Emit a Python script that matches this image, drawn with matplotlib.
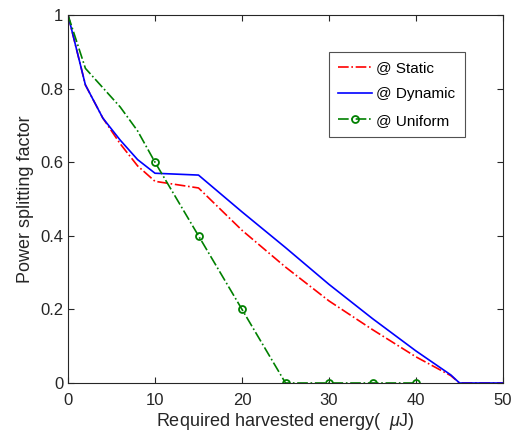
import matplotlib
matplotlib.use("Agg")
import matplotlib.pyplot as plt

plt.rcParams['font.family'] = ['Liberation Sans', 'DejaVu Sans']
plt.rcParams['mathtext.fontset'] = 'custom'
plt.rcParams['mathtext.it'] = 'Liberation Sans:italic'

x_static = [0, 2, 4, 6, 8, 10, 15, 20, 25, 30, 35, 40, 44, 45, 50]
y_static = [1.0, 0.81, 0.72, 0.65, 0.59, 0.548, 0.53, 0.415, 0.315, 0.223, 0.145, 0.071, 0.02, 0.0, 0.0]

x_dynamic = [0, 2, 4, 6, 8, 10, 15, 20, 25, 30, 35, 40, 44, 45, 50]
y_dynamic = [1.0, 0.81, 0.72, 0.66, 0.607, 0.57, 0.565, 0.465, 0.368, 0.268, 0.175, 0.087, 0.022, 0.0, 0.0]

x_uniform = [0, 2, 6, 8, 10, 15, 20, 25, 30, 35, 40]
y_uniform = [1.0, 0.855, 0.75, 0.685, 0.6, 0.4, 0.2, 0.0, 0.0, 0.0, 0.0]

fig = plt.figure(figsize=(5.14, 4.34), dpi=100)
ax = fig.add_axes([68/514, 1-383/434, (503-68)/514, (383-15)/434])

ax.plot(x_static, y_static, color='red', linestyle='-.', linewidth=1.2, label='@ Static')
ax.plot(x_dynamic, y_dynamic, color='blue', linestyle='-', linewidth=1.2, label='@ Dynamic')
ax.plot(x_uniform, y_uniform, color='green', linestyle='-.', linewidth=1.2, marker='o',
        markersize=5, markerfacecolor='none', markeredgewidth=1.3,
        markevery=list(range(4, len(x_uniform))), label='@ Uniform')

ax.set_xlim(0, 50)
ax.set_ylim(0, 1)
ax.set_xticks([0, 10, 20, 30, 40, 50])
ax.set_yticks([0, 0.2, 0.4, 0.6, 0.8, 1])
ax.set_yticklabels(['0', '0.2', '0.4', '0.6', '0.8', '1'])
ax.tick_params(direction='in', top=True, right=True, labelsize=12, colors='#262626', length=4)
ax.tick_params(axis='x', pad=7)
for s in ax.spines.values():
    s.set_color('#262626')
    s.set_linewidth(0.8)

ax.set_xlabel(r'Required harvested energy(  $\mu$J)', fontsize=13, color='#262626', labelpad=2)
ax.set_ylabel('Power splitting factor', fontsize=13, color='#262626')

leg = ax.legend(loc='upper left', bbox_to_anchor=(329/514, 1-52/434), bbox_transform=fig.transFigure,
                fontsize=11, frameon=True, fancybox=False, edgecolor='#262626', handlelength=2.2,
                handletextpad=0.3, borderpad=0.6, labelspacing=0.8, borderaxespad=0)
leg.get_frame().set_linewidth(0.8)

fig.savefig('out.png', dpi=100)
